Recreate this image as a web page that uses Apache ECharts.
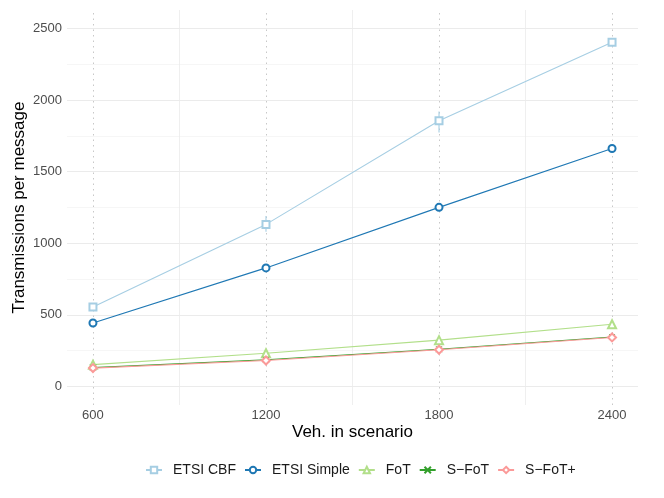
<!DOCTYPE html>
<html>
<head>
<meta charset="utf-8">
<script src="https://cdn.jsdelivr.net/npm/echarts@6/dist/echarts.min.js"></script>
<style>
  html, body { margin: 0; padding: 0; background: #fff; }
  #main { width: 664px; height: 498px; }
</style>
</head>
<body>
<div id="main"></div>
<script>
// vehicles in scenario
const vehicles = [600, 1200, 1800, 2400];

// transmissions per message
const etsiCbf = [555, 1132, 1856, 2404];
const etsiSimple = [443, 828, 1251, 1662];
const fot = [152, 232, 323, 434];
const sFot = [131, 186, 260, 345];
const sFotPlus = [128, 181, 256, 342];

// error bars on ETSI CBF: [x, low, high]
const cbfErr = [[1200, 1081, 1190], [1800, 1774, 1921]];

// tick / grid values
const xTicks = [600, 1200, 1800, 2400];
const xMinor = [900, 1500, 2100];
const yTicks = [0, 500, 1000, 1500, 2000, 2500];
const yMinor = [250, 750, 1250, 1750, 2250];

const font = 'Liberation Sans, Arial, sans-serif';

function pairs(ys) {
  return vehicles.map((x, i) => [x, ys[i]]);
}

function lineSeries(name, ys, color, symbol, size) {
  return {
    name: name,
    type: 'line',
    data: pairs(ys),
    symbol: symbol,
    symbolSize: size || 7,
    showSymbol: true,
    lineStyle: { color: color, width: 1.1 },
    itemStyle: { color: color, borderColor: color, borderWidth: 0.8 },
    emphasis: { disabled: true },
    z: 3
  };
}

// one small vertical line per error bar
const errSeries = cbfErr.map(e => ({
  type: 'line',
  data: [[e[0], e[1]], [e[0], e[2]]],
  symbol: 'none',
  silent: true,
  lineStyle: { color: '#a6cee3', width: 1.1 },
  emphasis: { disabled: true },
  z: 3
}));

let myChart = echarts.init(document.getElementById('main'));

myChart.setOption({
  animation: false,
  backgroundColor: '#fff',
  textStyle: { fontFamily: font },
  grid: { left: 67, right: 26, top: 10, bottom: 93, outerBoundsMode: 'none', containLabel: false },
  legend: {
    bottom: 16,
    left: 140,
    itemWidth: 16,
    itemHeight: 8,
    itemGap: 8,
    textStyle: { fontFamily: font, fontSize: 14, color: '#1a1a1a', padding: [0, 0, 0, 6] },
    data: ['ETSI CBF', 'ETSI Simple', 'FoT', 'S\u2212FoT', 'S\u2212FoT+']
  },
  xAxis: {
    type: 'value',
    min: 510,
    max: 2490,
    name: 'Veh. in scenario',
    nameLocation: 'middle',
    nameGap: 19,
    nameMoveOverlap: false,
    nameTextStyle: { fontFamily: font, fontSize: 17, color: '#000' },
    axisLine: { show: false },
    axisTick: { show: false },
    splitLine: { show: false },
    axisLabel: {
      customValues: xTicks,
      formatter: v => String(v),
      margin: 4,
      fontSize: 13,
      color: '#4d4d4d',
      fontFamily: font
    }
  },
  yAxis: {
    type: 'value',
    min: -130,
    max: 2630,
    name: 'Transmissions per message',
    nameLocation: 'middle',
    nameGap: 39,
    nameMoveOverlap: false,
    nameTextStyle: { fontFamily: font, fontSize: 17, color: '#000' },
    axisLine: { show: false },
    axisTick: { show: false },
    splitLine: { show: false },
    axisLabel: {
      customValues: yTicks,
      formatter: v => String(v),
      margin: 5,
      fontSize: 13,
      color: '#4d4d4d',
      fontFamily: font
    }
  },
  series: [
    {
      // panel grid
      type: 'line',
      data: [],
      silent: true,
      markLine: {
        silent: true,
        symbol: 'none',
        z: 0,
        label: { show: false },
        animation: false,
        data: [].concat(
          yTicks.map(v => ({ yAxis: v, lineStyle: { color: '#ebebeb', width: 1.1, type: 'solid' } })),
          yMinor.map(v => ({ yAxis: v, lineStyle: { color: '#f0f0f0', width: 0.6, type: 'solid' } })),
          xMinor.map(v => ({ xAxis: v, lineStyle: { color: '#ebebeb', width: 0.8, type: 'solid' } })),
          xTicks.map(v => ({ xAxis: v, lineStyle: { color: '#c8c8c8', width: 1, type: [1.5, 4] } }))
        )
      }
    },
    lineSeries('ETSI CBF', etsiCbf, '#a6cee3', 'emptyRect', 7),
    lineSeries('ETSI Simple', etsiSimple, '#1f78b4', 'emptyCircle', 7),
    lineSeries('FoT', fot, '#b2df8a', 'emptyTriangle', 8),
    lineSeries('S\u2212FoT', sFot, '#33a02c', 'path://M0,0L10,10M10,0L0,10', 6),
    lineSeries('S\u2212FoT+', sFotPlus, '#fb9a99', 'emptyDiamond', 8)
  ].concat(errSeries)
});
</script>
</body>
</html>
